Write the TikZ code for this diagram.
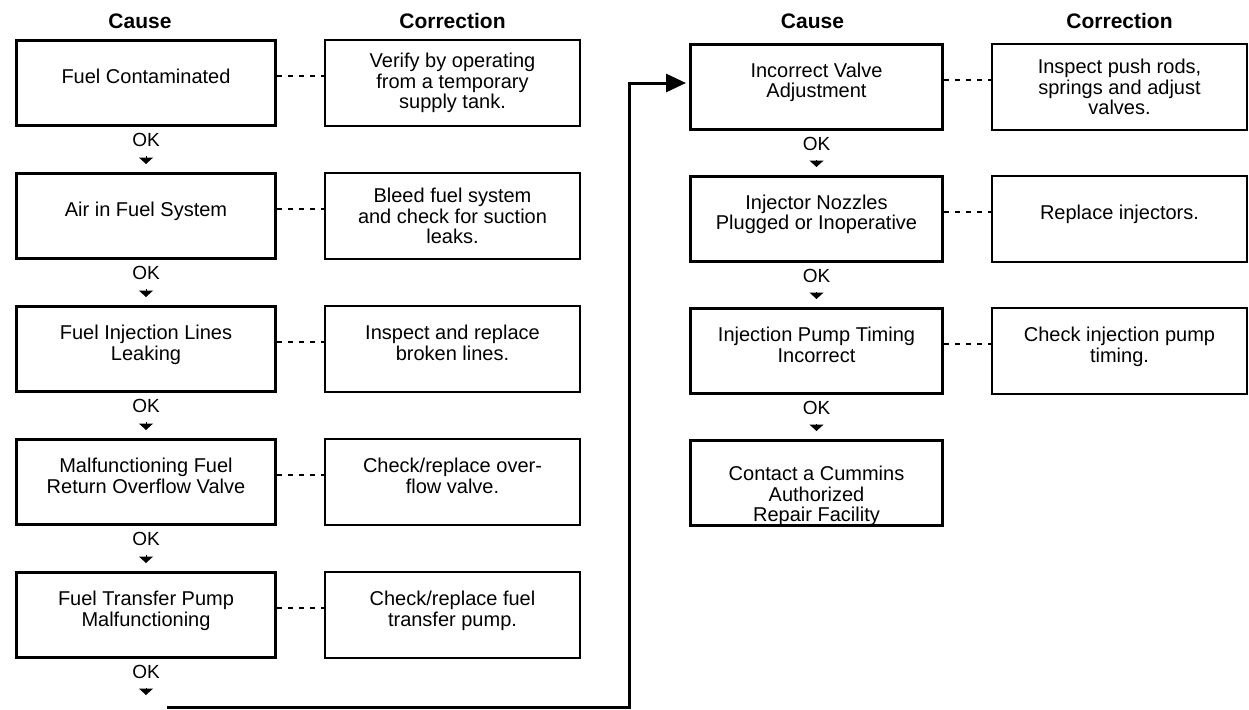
\documentclass[tikz,border=0pt]{standalone}
\usepackage{fontspec}
\setmainfont{Liberation Sans}
\usetikzlibrary{arrows.meta,positioning}

\begin{document}
\begin{tikzpicture}[x=1pt,y=1pt,
  txt/.style={font=\fontsize{20}{20.5}\selectfont,align=center},
  lcause/.style={txt,draw,line width=3pt,minimum width=259pt,minimum height=85pt,inner sep=2pt},
  rcause/.style={lcause,minimum width=252pt},
  fix/.style={txt,draw,line width=2pt,minimum width=255pt,minimum height=86pt,inner sep=2pt},
  up/.style={text depth=13pt},
  head/.style={font=\fontsize{21}{21}\selectfont\bfseries,inner sep=0pt},
  ok/.style={font=\fontsize{19}{19}\selectfont,inner sep=0pt},
  okarrow/.style={-{Triangle[length=6.5pt,width=14pt]},line width=1pt,shorten <=9pt,shorten >=8pt},
  dots/.style={line width=1.8pt,dash pattern=on 5pt off 6pt},
  link/.style={-{Triangle[length=20pt,width=18pt]},line width=3pt,shorten >=3pt}]
  \useasboundingbox (0,0) rectangle (1249,-709);
  % left half
  \node[lcause,up] (l1) at (146,-83) {Fuel Contaminated};
  \node[lcause,up,below=45pt of l1] (l2) {Air in Fuel System};
  \node[lcause,up,below=45pt of l2] (l3) {Fuel Injection Lines\\Leaking};
  \node[lcause,up,below=45pt of l3] (l4) {Malfunctioning Fuel\\Return Overflow Valve};
  \node[lcause,up,below=45pt of l4] (l5) {Fuel Transfer Pump\\Malfunctioning};
  \node[fix,right=47pt of l1] (c1) {Verify by operating\\from a temporary\\supply tank.};
  \node[fix,right=47pt of l2] (c2) {Bleed fuel system\\and check for suction\\leaks.};
  \node[fix,up,right=47pt of l3] (c3) {Inspect and replace\\broken lines.};
  \node[fix,up,right=47pt of l4] (c4) {Check/replace over-\\flow valve.};
  \node[fix,up,right=47pt of l5] (c5) {Check/replace fuel\\transfer pump.};
  % right half
  \node[rcause,up,right=108pt of c1,yshift=-4pt] (r1) {Incorrect Valve\\Adjustment};
  \node[rcause,up,below=44pt of r1] (r2) {Injector Nozzles\\Plugged or Inoperative};
  \node[rcause,up,below=44pt of r2] (r3) {Injection Pump Timing\\Incorrect};
  \node[rcause,text height=77pt,text depth=0pt,below=44pt of r3] (r4) {Contact a Cummins\\Authorized\\Repair Facility};
  \node[fix,right=47pt of r1] (rc1) {Inspect push rods,\\springs and adjust\\valves.};
  \node[fix,up,right=47pt of r2] (rc2) {Replace injectors.};
  \node[fix,up,right=47pt of r3] (rc3) {Check injection pump\\timing.};
  % headings
  \node[head,above=10pt of l1,xshift=-6pt] (h1) {Cause};
  \node[head,above=10pt of c1] (h2) {Correction};
  \node[head,above=14pt of r1,xshift=-4pt] (h3) {Cause};
  \node[head,above=14pt of rc1] (h4) {Correction};
  \foreach \n/\m in {l1/l2,l2/l3,l3/l4,l4/l5,r1/r2,r2/r3,r3/r4} {
    \node[ok,below=6pt of \n] (ok\n) {OK};
    \draw[okarrow] (ok\n) -- (\m);
  }
  \foreach \n/\m in {l1/c1,l2/c2,l3/c3,l4/c4,l5/c5,r1/rc1,r2/rc2,r3/rc3}
    \draw[dots] ([yshift=7pt]\n.east) -- ([yshift=7pt]\m.west);
  % last step carries over to the right column
  \node[ok,below=6pt of l5] (okl5) {OK};
  \coordinate (lnk) at ([xshift=21pt,yshift=-48pt]l5.south);
  \draw[okarrow,shorten >=12pt] (okl5) -- (okl5 |- lnk);
  \draw[link] (lnk) -| ([xshift=-60pt,yshift=4pt]r1.west) -- ([yshift=4pt]r1.west);
\end{tikzpicture}
\end{document}
